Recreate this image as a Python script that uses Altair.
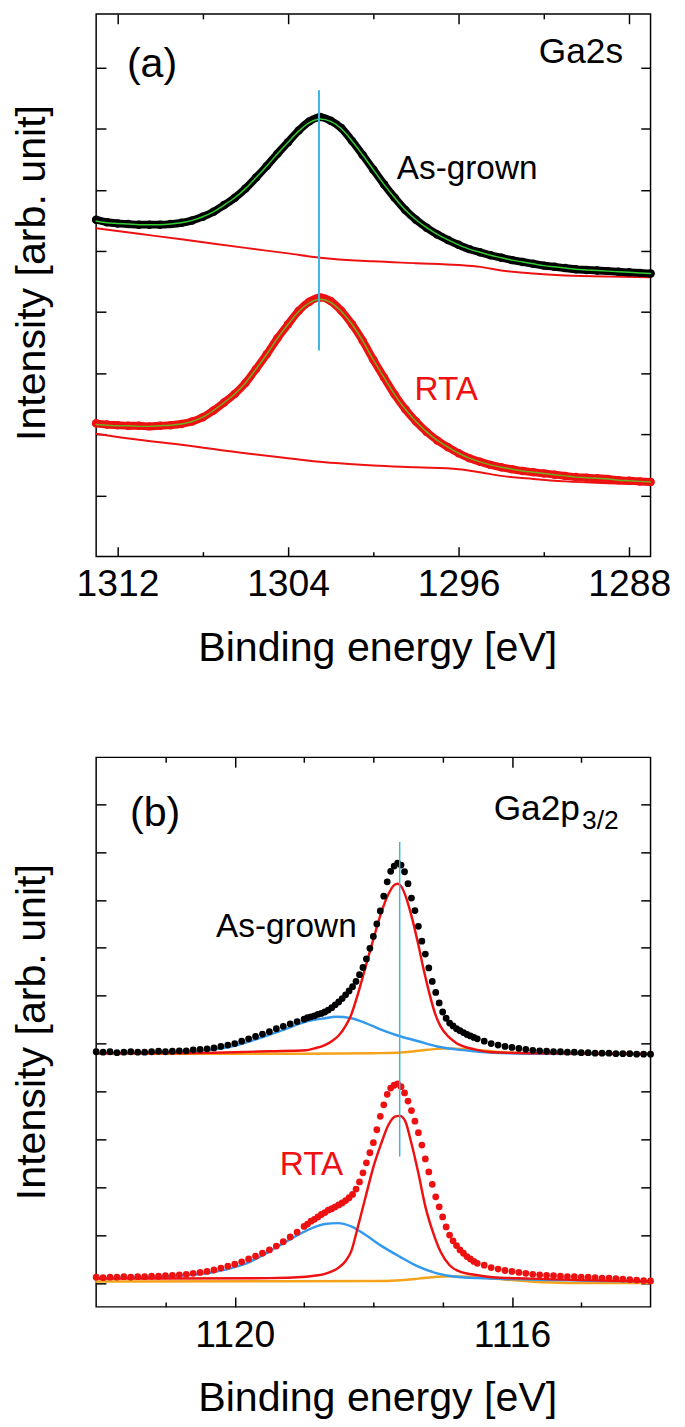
import altair as alt
import pandas as pd

FONT = "Liberation Sans"
BLACK = "#000000"
RED = "#ee1111"
GREEN = "#33cc33"
OLIVE = "#6fae1f"
CYAN = "#3cb4e6"
BLUE = "#3399ee"
ORANGE = "#f5a31c"

# ---------------- Panel (a): Ga2s ----------------
a_energy = [round(1313.0 - 0.5 * i, 2) for i in range(53)]
a_grown = [5.51, 5.47, 5.45, 5.44, 5.43, 5.43, 5.43, 5.44, 5.46, 5.50,
           5.56, 5.64, 5.75, 5.87, 6.02, 6.20, 6.39, 6.59, 6.78, 6.97,
           7.12, 7.19, 7.13, 7.01, 6.80, 6.57, 6.33, 6.09, 5.87, 5.67,
           5.51, 5.38, 5.27, 5.18, 5.10, 5.03, 4.98, 4.93, 4.89, 4.85,
           4.82, 4.79, 4.76, 4.74, 4.72, 4.70, 4.69, 4.68, 4.67, 4.66,
           4.65, 4.64, 4.63]
a_grown_fit = [5.49, 5.46, 5.45, 5.44, 5.43, 5.43, 5.43, 5.44, 5.46, 5.50,
               5.56, 5.64, 5.75, 5.87, 6.02, 6.20, 6.39, 6.59, 6.78, 6.96,
               7.10, 7.16, 7.12, 7.00, 6.80, 6.57, 6.33, 6.09, 5.87, 5.67,
               5.51, 5.38, 5.27, 5.18, 5.10, 5.03, 4.98, 4.93, 4.89, 4.85,
               4.82, 4.79, 4.76, 4.74, 4.72, 4.70, 4.69, 4.68, 4.67, 4.66,
               4.65, 4.64, 4.63]
a_rta = [2.18, 2.16, 2.15, 2.14, 2.14, 2.13, 2.14, 2.15, 2.17, 2.21,
         2.28, 2.39, 2.52, 2.66, 2.84, 3.07, 3.31, 3.57, 3.80, 4.02,
         4.17, 4.24, 4.18, 4.02, 3.80, 3.53, 3.22, 2.93, 2.65, 2.41,
         2.21, 2.04, 1.90, 1.79, 1.69, 1.61, 1.55, 1.50, 1.46, 1.43,
         1.40, 1.38, 1.36, 1.34, 1.32, 1.30, 1.29, 1.28, 1.27, 1.25,
         1.24, 1.23, 1.22]
a_rta_fit = [2.16, 2.15, 2.14, 2.14, 2.13, 2.13, 2.14, 2.15, 2.17, 2.21,
             2.28, 2.39, 2.52, 2.66, 2.84, 3.07, 3.31, 3.57, 3.80, 4.01,
             4.15, 4.21, 4.16, 4.01, 3.80, 3.53, 3.22, 2.93, 2.65, 2.41,
             2.21, 2.04, 1.90, 1.79, 1.69, 1.61, 1.55, 1.50, 1.46, 1.43,
             1.40, 1.38, 1.36, 1.34, 1.32, 1.30, 1.29, 1.28, 1.27, 1.25,
             1.24, 1.23, 1.22]
a_bg_energy = [1313.0, 1311.0, 1309.0, 1306.0, 1304.0, 1302.5, 1300.0, 1298.0,
               1296.0, 1295.0, 1294.0, 1292.5, 1291.0, 1289.0, 1287.0]
a_grown_bg = [5.37, 5.28, 5.19, 5.05, 4.96, 4.89, 4.83, 4.80,
              4.77, 4.74, 4.68, 4.63, 4.60, 4.58, 4.57]
a_rta_bg = [2.01, 1.91, 1.83, 1.69, 1.61, 1.55, 1.49, 1.46,
            1.43, 1.38, 1.32, 1.27, 1.23, 1.20, 1.18]
a_peak_line = {"e": 1302.55, "y1": 3.37, "y2": 7.63}
a_major = [1312, 1304, 1296, 1288]
a_minor = [1308, 1300, 1292]
a_yticks = [1, 2, 3, 4, 5, 6, 7, 8]
a_xdomain = [1313.0, 1287.0]
a_ydomain = [0.0, 8.878]
a_labels = [
    {"t": "(a)", "e": 1310.38, "d": 7.84, "size": 42, "color": BLACK, "align": "center"},
    {"t": "Ga2s", "e": 1288.29, "d": 8.08, "size": 36, "color": BLACK, "align": "right"},
    {"t": "As-grown", "e": 1298.90, "d": 6.17, "size": 34, "color": BLACK, "align": "left"},
    {"t": "RTA", "e": 1298.07, "d": 2.56, "size": 34, "color": RED, "align": "left"},
]

# ---------------- Panel (b): Ga2p3/2 ----------------
b_energy = ([round(1122.0 - 0.1 * i, 2) for i in range(30)]
            + [round(1119.0 - 0.05 * i, 2) for i in range(51)]
            + [round(1116.4 - 0.1 * i, 2) for i in range(25)])
b_grown = [4.83, 4.82, 4.83, 4.81, 4.82, 4.83, 4.82, 4.82, 4.83, 4.84,
           4.83, 4.84, 4.85, 4.85, 4.87, 4.88, 4.89, 4.91, 4.94, 4.97,
           5.00, 5.05, 5.10, 5.15, 5.20, 5.25, 5.31, 5.36, 5.41, 5.46,
           5.51, 5.54, 5.56, 5.58, 5.61, 5.63, 5.66, 5.70, 5.75, 5.81,
           5.87, 5.94, 6.02, 6.10, 6.19, 6.30, 6.44, 6.59, 6.77, 6.99,
           7.24, 7.50, 7.77, 8.08, 8.38, 8.60, 8.71, 8.77, 8.73, 8.59,
           8.34, 8.04, 7.78, 7.45, 7.14, 6.87, 6.58, 6.30, 6.07, 5.85,
           5.66, 5.53, 5.43, 5.37, 5.31, 5.27, 5.23, 5.19, 5.16, 5.13,
           5.10,
           5.05, 5.00, 4.97, 4.94, 4.92, 4.90, 4.88, 4.86, 4.85, 4.84,
           4.83, 4.83, 4.82, 4.82, 4.81, 4.81, 4.80, 4.80, 4.80, 4.79,
           4.79, 4.79, 4.78, 4.78, 4.78]
b_rta = [0.12, 0.11, 0.12, 0.12, 0.13, 0.12, 0.13, 0.13, 0.14, 0.14,
         0.15, 0.16, 0.17, 0.18, 0.20, 0.22, 0.24, 0.27, 0.31, 0.35,
         0.39, 0.44, 0.50, 0.56, 0.62, 0.69, 0.77, 0.86, 0.96, 1.06,
         1.18, 1.23, 1.29, 1.33, 1.38, 1.43, 1.47, 1.52, 1.55, 1.59,
         1.63, 1.67, 1.72, 1.78, 1.85, 1.96, 2.11, 2.30, 2.51, 2.72,
         2.93, 3.20, 3.48, 3.72, 3.94, 4.07, 4.13, 4.16, 4.10, 3.97,
         3.80, 3.60, 3.38, 3.14, 2.88, 2.59, 2.32, 2.06, 1.80, 1.59,
         1.38, 1.17, 1.00, 0.88, 0.78, 0.69, 0.62, 0.55, 0.50, 0.45,
         0.41,
         0.37, 0.32, 0.29, 0.26, 0.24, 0.22, 0.20, 0.18, 0.17, 0.16,
         0.15, 0.14, 0.13, 0.13, 0.12, 0.12, 0.11, 0.10, 0.10, 0.09,
         0.08, 0.07, 0.06, 0.05, 0.04]

b_red_grown_e = [1122.0, 1121.0, 1120.0, 1119.5, 1118.97, 1118.85, 1118.70, 1118.60, 1118.50, 1118.40,
                 1118.32, 1118.22, 1118.11, 1118.00, 1117.89, 1117.78, 1117.70, 1117.65, 1117.60, 1117.52,
                 1117.44, 1117.35, 1117.27, 1117.19, 1117.11, 1117.03, 1116.92, 1116.81, 1116.54, 1116.28,
                 1115.74, 1114.0]
b_red_grown = [4.80, 4.80, 4.82, 4.84, 4.86, 4.90, 4.97, 5.05, 5.17, 5.37,
               5.60, 6.05, 6.62, 7.18, 7.72, 8.13, 8.31, 8.34, 8.29, 8.02,
               7.61, 7.06, 6.52, 6.04, 5.63, 5.36, 5.15, 5.02, 4.88, 4.82,
               4.80, 4.79]
b_blue_grown_e = [1122.0, 1121.0, 1120.59, 1120.05, 1119.78, 1119.51, 1119.24, 1118.97, 1118.70, 1118.54,
                  1118.32, 1118.11, 1117.89, 1117.65, 1117.35, 1117.08, 1116.81, 1116.54, 1116.28, 1115.74, 1114.0]
b_blue_grown = [4.80, 4.81, 4.84, 4.94, 5.05, 5.18, 5.32, 5.46, 5.53, 5.56,
                5.53, 5.43, 5.29, 5.17, 5.05, 4.94, 4.88, 4.84, 4.81, 4.79, 4.78]
b_orange_grown_e = [1122.0, 1119.0, 1118.0, 1117.65, 1117.35, 1117.08, 1116.90, 1116.65, 1116.38, 1116.01, 1115.5, 1114.0]
b_orange_grown = [4.79, 4.79, 4.80, 4.81, 4.85, 4.89, 4.90, 4.88, 4.85, 4.81, 4.79, 4.78]

b_red_rta_e = [1122.0, 1119.51, 1118.97, 1118.80, 1118.70, 1118.60, 1118.50, 1118.40, 1118.32, 1118.22,
               1118.11, 1118.00, 1117.89, 1117.78, 1117.68, 1117.62, 1117.54, 1117.46, 1117.35, 1117.25,
               1117.14, 1117.03, 1116.90, 1116.76, 1116.54, 1116.28, 1115.74, 1114.0]
b_red_rta = [0.09, 0.10, 0.13, 0.16, 0.19, 0.24, 0.32, 0.46, 0.66, 1.19,
             1.81, 2.42, 2.90, 3.31, 3.48, 3.49, 3.38, 2.97, 2.29, 1.60,
             1.06, 0.65, 0.37, 0.24, 0.17, 0.12, 0.09, 0.03]
b_blue_rta_e = [1122.0, 1120.59, 1120.05, 1119.78, 1119.51, 1119.24, 1118.97, 1118.70, 1118.51, 1118.32,
                1118.11, 1117.89, 1117.62, 1117.35, 1117.08, 1116.81, 1116.28, 1114.0]
b_blue_rta = [0.09, 0.17, 0.31, 0.44, 0.65, 0.88, 1.09, 1.23, 1.25, 1.18,
              1.00, 0.78, 0.55, 0.34, 0.20, 0.13, 0.09, 0.03]
b_orange_rta_e = [1122.0, 1117.89, 1117.35, 1117.08, 1116.87, 1116.54, 1116.28, 1115.74, 1115.20, 1114.0]
b_orange_rta = [0.03, 0.04, 0.09, 0.13, 0.14, 0.12, 0.09, 0.03, 0.0, 0.0]

b_peak_line = {"e": 1117.62, "y1": 2.64, "y2": 9.21}
b_major = [1120, 1116]
b_minor = [1121, 1119, 1118, 1117, 1115]
b_yticks = [0, 1, 2, 3, 4, 5, 6, 7, 8, 9, 10]
b_xdomain = [1122.0, 1114.0]
b_ydomain = [-0.5, 10.98]
b_labels = [
    {"t": "(b)", "e": 1121.15, "d": 9.55, "size": 42, "color": BLACK, "align": "center"},
    {"t": "Ga2p", "e": 1115.02, "d": 9.67, "size": 36, "color": BLACK, "align": "right"},
    {"t": "3/2", "e": 1114.99, "d": 9.49, "size": 27, "color": BLACK, "align": "left"},
    {"t": "As-grown", "e": 1120.27, "d": 7.23, "size": 34, "color": BLACK, "align": "left"},
    {"t": "RTA", "e": 1119.35, "d": 2.26, "size": 34, "color": RED, "align": "left"},
]

W = 566
TICK_LABEL = 38
TITLE = 42


def sc(domain):
    return alt.Scale(domain=domain, nice=False, zero=False)


def xy(xs, ys):
    return dict(x=alt.X("e:Q", scale=xs, axis=None), y=alt.Y("d:Q", scale=ys, axis=None))


def axis_layers(xd, yd, major, minor, yticks, title_y):
    xs, ys = sc(xd), sc(yd)
    one = pd.DataFrame({"e": [sum(xd) / 2], "d": [sum(yd) / 2]})
    common = dict(domain=False, grid=False, tickColor=BLACK, tickWidth=1.5)
    axes = [
        ("x", alt.Axis(orient="bottom", values=major, format="d", offset=-10, tickSize=10,
                       labelFont=FONT, labelFontSize=TICK_LABEL, labelColor=BLACK,
                       labelPadding=10, labelFlush=False, labelOverlap=False,
                       title="Binding energy [eV]", titleFont=FONT, titleFontSize=TITLE,
                       titleFontWeight="normal", titleColor=BLACK, titlePadding=25,
                       titleX=287, **common)),
        ("x", alt.Axis(orient="bottom", values=minor, offset=-5, tickSize=5, labels=False,
                       title=None, **common)),
        ("x", alt.Axis(orient="top", values=major, offset=-10, tickSize=10, labels=False,
                       title=None, **common)),
        ("x", alt.Axis(orient="top", values=minor, offset=-5, tickSize=5, labels=False,
                       title=None, **common)),
        ("y", alt.Axis(orient="left", values=yticks, offset=-10, tickSize=10, labels=False,
                       title="Intensity [arb. unit]", titleFont=FONT, titleFontSize=TITLE,
                       titleFontWeight="normal", titleColor=BLACK, titlePadding=43,
                       titleY=title_y, **common)),
        ("y", alt.Axis(orient="right", values=yticks, offset=-10, tickSize=10, labels=False,
                       title=None, **common)),
    ]
    layers = []
    for ch, ax in axes:
        if ch == "x":
            enc = dict(x=alt.X("e:Q", scale=xs, axis=ax), y=alt.Y("d:Q", scale=ys, axis=None))
        else:
            enc = dict(x=alt.X("e:Q", scale=xs, axis=None), y=alt.Y("d:Q", scale=ys, axis=ax))
        layers.append(alt.Chart(one).mark_point(opacity=0).encode(**enc))
    return layers


def line(e, v, xd, yd, color, width, interp="monotone"):
    df = pd.DataFrame({"e": e, "d": v})
    return alt.Chart(df).mark_line(color=color, strokeWidth=width, interpolate=interp,
                                   strokeCap="round", strokeJoin="round").encode(**xy(sc(xd), sc(yd)))


def dots(e, v, xd, yd, color, size):
    df = pd.DataFrame({"e": e, "d": v})
    return alt.Chart(df).mark_circle(color=color, size=size, opacity=1).encode(**xy(sc(xd), sc(yd)))


def peak_rule(p, xd, yd, width):
    df = pd.DataFrame([p])
    return alt.Chart(df).mark_rule(color=CYAN, strokeWidth=width).encode(
        x=alt.X("e:Q", scale=sc(xd), axis=None),
        y=alt.Y("y1:Q", scale=sc(yd), axis=None),
        y2="y2:Q")


def texts(items, xd, yd):
    out = []
    for it in items:
        df = pd.DataFrame([it])
        out.append(alt.Chart(df).mark_text(font=FONT, fontSize=it["size"], color=it["color"],
                                           align=it["align"], baseline="alphabetic").encode(
            x=alt.X("e:Q", scale=sc(xd), axis=None),
            y=alt.Y("d:Q", scale=sc(yd), axis=None),
            text="t:N"))
    return out


# ---- build panel (a)
la = axis_layers(a_xdomain, a_ydomain, a_major, a_minor, a_yticks, 264)
la += [
    line(a_bg_energy, a_grown_bg, a_xdomain, a_ydomain, RED, 2),
    line(a_bg_energy, a_rta_bg, a_xdomain, a_ydomain, RED, 2),
    line(a_energy, a_grown, a_xdomain, a_ydomain, BLACK, 8),
    dots(a_energy, a_grown, a_xdomain, a_ydomain, BLACK, 75),
    line(a_energy, a_grown_fit, a_xdomain, a_ydomain, GREEN, 1.5),
    line(a_energy, a_rta, a_xdomain, a_ydomain, RED, 8),
    dots(a_energy, a_rta, a_xdomain, a_ydomain, RED, 75),
    line(a_energy, a_rta_fit, a_xdomain, a_ydomain, OLIVE, 1.5),
    peak_rule(a_peak_line, a_xdomain, a_ydomain, 2),
]
la += texts(a_labels, a_xdomain, a_ydomain)
panel_a = alt.layer(*la).resolve_axis(x="independent", y="independent").properties(
    width=W, height=554)

# ---- build panel (b)
lb = axis_layers(b_xdomain, b_ydomain, b_major, b_minor, b_yticks, 280)
lb += [
    line(b_orange_grown_e, b_orange_grown, b_xdomain, b_ydomain, ORANGE, 2.5),
    line(b_blue_grown_e, b_blue_grown, b_xdomain, b_ydomain, BLUE, 2.5),
    line(b_red_grown_e, b_red_grown, b_xdomain, b_ydomain, RED, 2.5),
    dots(b_energy, b_grown, b_xdomain, b_ydomain, BLACK, 48),
    line(b_orange_rta_e, b_orange_rta, b_xdomain, b_ydomain, ORANGE, 2.5),
    line(b_blue_rta_e, b_blue_rta, b_xdomain, b_ydomain, BLUE, 2.5),
    line(b_red_rta_e, b_red_rta, b_xdomain, b_ydomain, RED, 2.5),
    dots(b_energy, b_rta, b_xdomain, b_ydomain, RED, 48),
    peak_rule(b_peak_line, b_xdomain, b_ydomain, 1.5),
]
lb += texts(b_labels, b_xdomain, b_ydomain)
panel_b = alt.layer(*lb).resolve_axis(x="independent", y="independent").properties(
    width=W, height=561)

chart = alt.vconcat(panel_a, panel_b, spacing=88).properties(
    padding={"left": 2, "top": -11, "right": 5, "bottom": 12}
).configure_view(stroke=BLACK, strokeWidth=1.5)

chart.save("out.html", embed_options={"renderer": "svg", "actions": False})
